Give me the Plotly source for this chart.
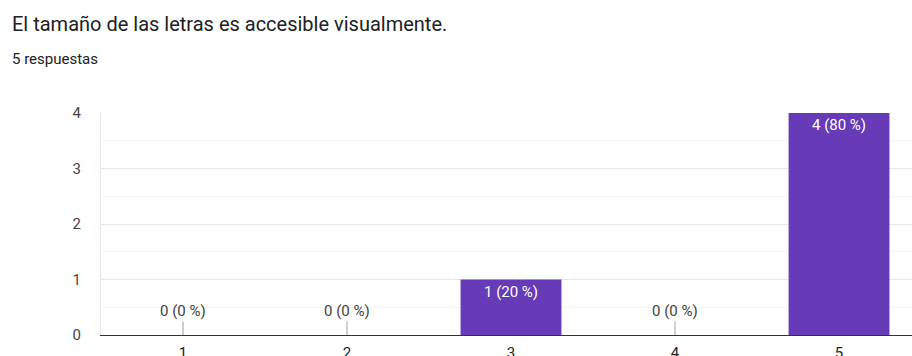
import plotly.graph_objects as go

# Survey results: answers on a 1-5 scale
categories = ["1", "2", "3", "4", "5"]
counts = [0, 0, 1, 0, 4]
total = 5
title_text = "El tamaño de las letras es accesible visualmente."
subtitle_text = "5 respuestas"

labels = [f"{c} ({round(c * 100 / total)} %)" for c in counts]
bar_color = "#673ab7"
font_family = "Roboto, Arial, sans-serif"

W, H = 912, 356
ML, MT, MB, MR = 101, 113, 21, 0
plot_w = W - ML - MR

fig = go.Figure()

# Bars with their value labels inside the top of each bar
fig.add_trace(go.Bar(
    x=categories,
    y=counts,
    marker=dict(color=bar_color, line=dict(width=0)),
    width=0.615,
    text=[lab if c > 0 else "" for lab, c in zip(labels, counts)],
    textposition="inside",
    insidetextanchor="end",
    textangle=0,
    textfont=dict(color="white", size=15, family=font_family),
    constraintext="none",
    hoverinfo="skip",
))

# Zero-valued categories get a label above a short leader line
for i, (c, lab) in enumerate(zip(counts, labels)):
    if c == 0:
        fig.add_annotation(
            x=i, y=0, xref="x", yref="y",
            text=lab, showarrow=True, arrowhead=0, arrowwidth=1,
            arrowcolor="#9e9e9e", ax=0, ay=-24,
            font=dict(size=15, color="#424242", family=font_family),
        )

# Header text
fig.add_annotation(
    text=title_text, xref="paper", yref="paper",
    x=(10 - ML) / plot_w, y=1 + (MT - 24) / (H - MT - MB),
    xanchor="left", yanchor="middle", showarrow=False,
    font=dict(size=20, color="#202124", family=font_family),
)
fig.add_annotation(
    text=subtitle_text, xref="paper", yref="paper",
    x=(10 - ML) / plot_w, y=1 + (MT - 59) / (H - MT - MB),
    xanchor="left", yanchor="middle", showarrow=False,
    font=dict(size=15, color="#202124", family=font_family),
)

fig.update_layout(
    width=W, height=H,
    margin=dict(l=ML, r=MR, t=MT, b=MB, pad=0, autoexpand=False),
    paper_bgcolor="white", plot_bgcolor="white",
    showlegend=False,
    font=dict(family=font_family),
    xaxis=dict(
        type="category",
        range=[-0.5, 4.445],
        automargin=False,
        showgrid=False, zeroline=False,
        showline=True, linecolor="#333333", linewidth=1,
        ticks="outside", ticklen=4, tickcolor="rgba(0,0,0,0)",
        tickfont=dict(size=15, color="#222222"),
        fixedrange=True,
    ),
    yaxis=dict(
        range=[0, 4], dtick=1,
        automargin=False,
        showgrid=True, gridcolor="#e6e6e6", gridwidth=1,
        zeroline=False,
        showline=True, linecolor="#e6e6e6", linewidth=1,
        ticks="", ticklabelstandoff=16,
        tickfont=dict(size=15, color="#444444"),
        minor=dict(dtick=0.5, showgrid=True, gridcolor="#f3f3f3", gridwidth=1),
        fixedrange=True,
    ),
)

fig.write_html("out.html")
